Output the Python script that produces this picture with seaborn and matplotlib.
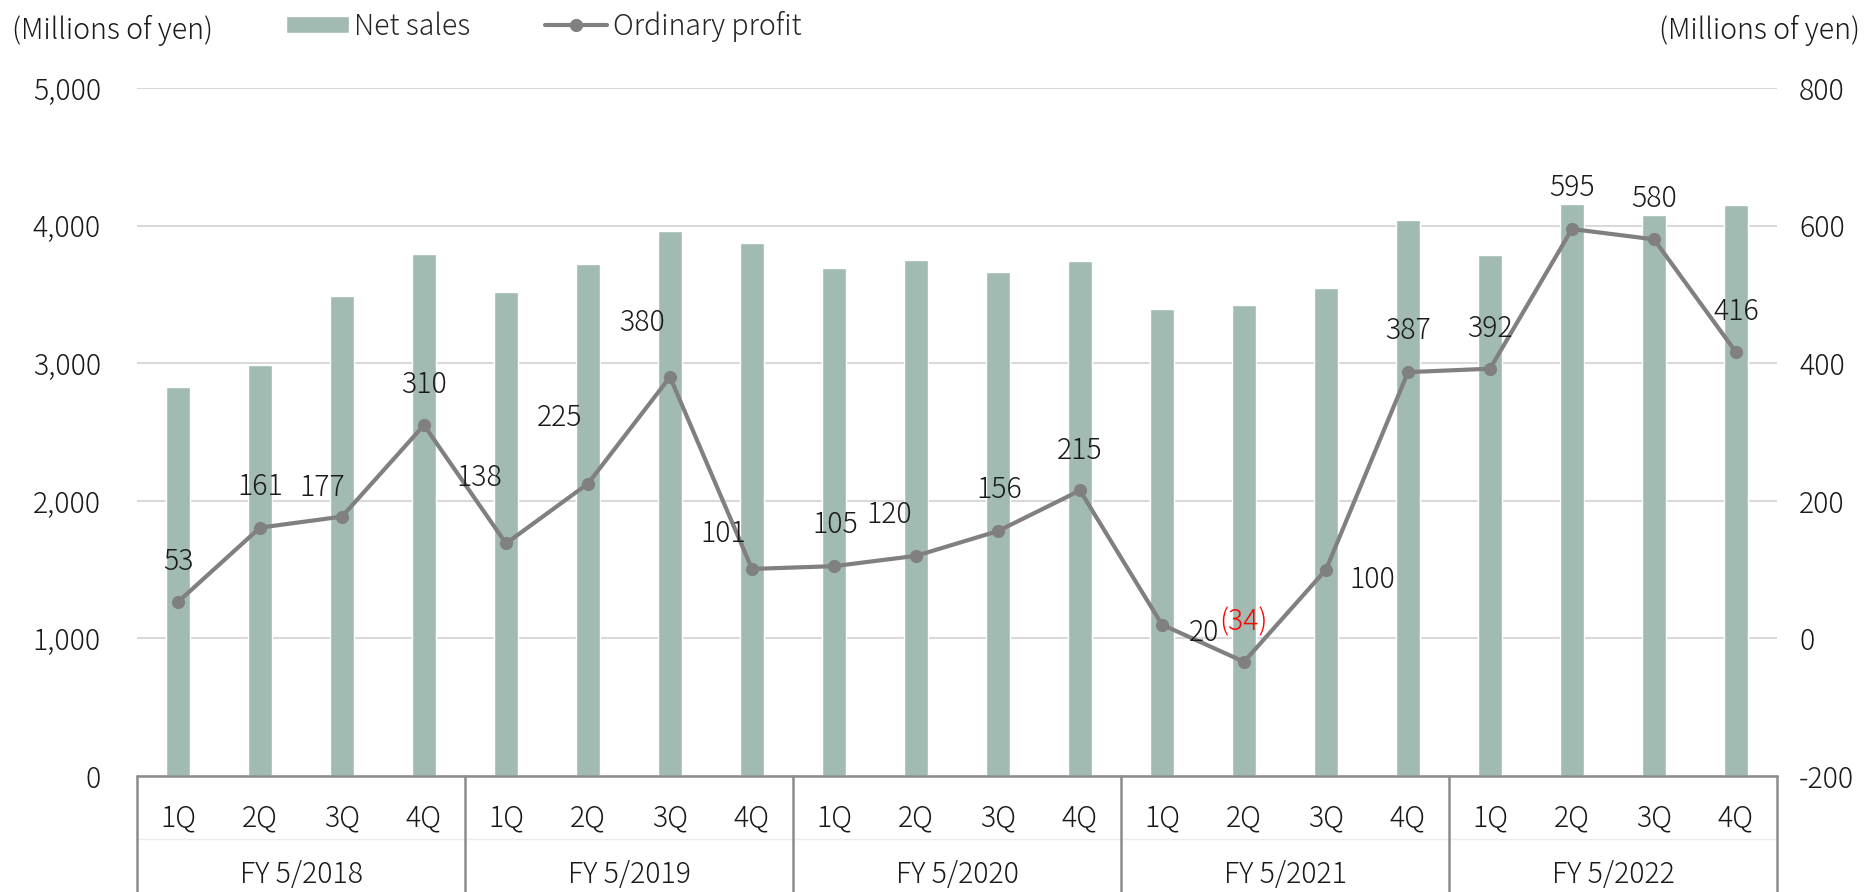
import pandas as pd
import numpy as np
import matplotlib
matplotlib.use("Agg")
import matplotlib.pyplot as plt
import matplotlib.ticker as mticker
import seaborn as sns

sns.set_style("white")
plt.rcParams['font.family'] = ['Noto Sans CJK JP', 'DejaVu Sans']
plt.rcParams['font.weight'] = 'light'
plt.rcParams['axes.unicode_minus'] = False

# Datos
fiscal_years = ["FY 5/2018", "FY 5/2019", "FY 5/2020", "FY 5/2021", "FY 5/2022"]
quarters = ["1Q", "2Q", "3Q", "4Q"]
net_sales = [2830, 2990, 3490, 3795,
             3520, 3720, 3960, 3875,
             3690, 3750, 3665, 3745,
             3395, 3420, 3545, 4040,
             3785, 4160, 4075, 4150]
ordinary_profit = [53, 161, 177, 310,
                   138, 225, 380, 101,
                   105, 120, 156, 215,
                   20, -34, 100, 387,
                   392, 595, 580, 416]
# desplazamiento de cada etiqueta (px) respecto al punto
label_offsets = [(0, 40), (0, 41), (-20, 29), (0, 40),
                 (-27, 66), (-28, 66), (-28, 54), (-29, 35),
                 (1, 41), (-27, 41), (1, 41), (0, 40),
                 (42, -8), (0, 40), (46, -10), (0, 41),
                 (0, 40), (0, 41), (0, 41), (0, 40)]

df = pd.DataFrame({
    'fy': np.repeat(fiscal_years, len(quarters)),
    'q': quarters * len(fiscal_years),
    'sales': net_sales,
    'profit': ordinary_profit,
})
df['pos'] = np.arange(len(df))

BAR = "#a1bbb3"
LINE = "#808080"
TXT = "#1a1a1a"
FS = 20.5

W, H = 1870, 892
fig = plt.figure(figsize=(W / 100, H / 100), dpi=100)
ax = fig.add_axes([137 / W, (H - 776) / H, (1777 - 137) / W, (776 - 88) / H])
ax2 = ax.twinx()

sns.barplot(data=df, x='pos', y='sales', color=BAR, width=0.3, ax=ax,
            saturation=1, label="Net sales")
sns.lineplot(data=df, x='pos', y='profit', ax=ax2, color=LINE, lw=3,
             marker='o', markersize=9.5, markeredgewidth=0, label="Ordinary profit")

ax.set_xlim(-0.5, len(df) - 0.5)
ax.set_ylim(0, 5000)
ax2.set_ylim(-200, 800)
ax.set_yticks(range(0, 5001, 1000))
ax2.set_yticks(range(-200, 801, 200))
ax.yaxis.set_major_formatter(mticker.StrMethodFormatter('{x:,.0f}'))
ax2.yaxis.set_major_formatter(mticker.StrMethodFormatter('{x:,.0f}'))
ax.tick_params(axis='y', length=0, pad=26, labelsize=FS, labelcolor=TXT)
ax2.tick_params(axis='y', length=0, pad=16, labelsize=FS, labelcolor=TXT)
ax.set_xticks([])
for a in (ax, ax2):
    a.set_xlabel("")
    a.set_ylabel("")
    for s in ['top', 'left', 'right', 'bottom']:
        a.spines[s].set_visible(False)
    if a.get_legend() is not None:
        a.get_legend().remove()
ax.yaxis.grid(True, color="#d9d9d9", lw=1.5)
ax.set_axisbelow(True)

# caja de categorías bajo el eje
trans = ax.get_xaxis_transform()
ax.plot([-0.5, len(df) - 0.5], [0, 0], transform=trans, color="#8c8c8c",
        lw=1.8, clip_on=False, zorder=5)
ax.plot([-0.5, len(df) - 0.5], [-0.092, -0.092], transform=trans, color="#ececec",
        lw=1, clip_on=False)
for k in range(len(fiscal_years) + 1):
    xb = k * len(quarters) - 0.5
    ax.plot([xb, xb], [0, -0.2], transform=trans, color="#8c8c8c", lw=1.8,
            clip_on=False)
for i, row in df.iterrows():
    ax.text(row['pos'], -0.061, row['q'], transform=trans, ha='center',
            va='center', fontsize=FS, color=TXT)
for k, fy in enumerate(fiscal_years):
    xc = k * len(quarters) + (len(quarters) - 1) / 2
    ax.text(xc, -0.144, fy, transform=trans, ha='center', va='center',
            fontsize=FS, color=TXT)

# etiquetas de beneficio
for i, row in df.iterrows():
    v = row['profit']
    txt = f"({abs(v)})" if v < 0 else f"{v}"
    col = "#ff0000" if v < 0 else TXT
    ax2.annotate(txt, (row['pos'], v), xytext=label_offsets[i],
                 textcoords='offset pixels', ha='center', va='center',
                 fontsize=FS, color=col, zorder=6)

# leyenda y encabezados
h1, l1 = ax.get_legend_handles_labels()
h2, l2 = ax2.get_legend_handles_labels()
fig.legend(h1 + h2, l1 + l2, loc='center left', bbox_to_anchor=(286 / W, 1 - 26 / H),
           ncol=2, frameon=False, fontsize=FS, handlelength=2.2, handleheight=0.58,
           handletextpad=0.2, columnspacing=2.6, borderpad=0, borderaxespad=0)
fig.text(12 / W, 1 - 30 / H, "(Millions of yen)", ha='left', va='center',
         fontsize=FS, color=TXT)
fig.text(1860 / W, 1 - 30 / H, "(Millions of yen)", ha='right', va='center',
         fontsize=FS, color=TXT)

fig.savefig("out.png", dpi=100)
